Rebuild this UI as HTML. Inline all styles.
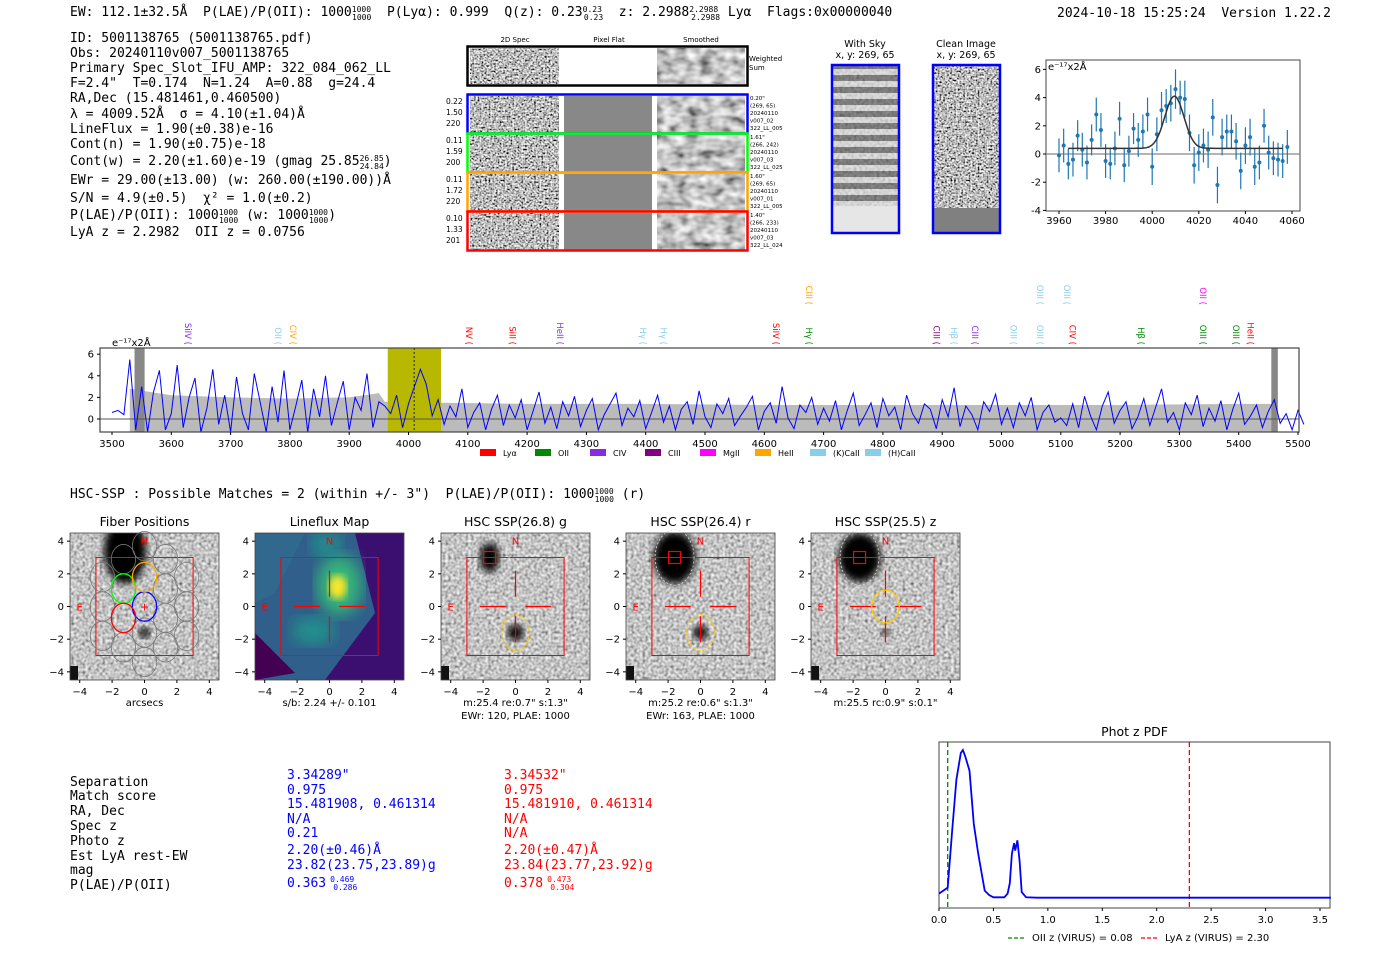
<!DOCTYPE html>
<html><head><meta charset="utf-8"><style>
html,body{margin:0;padding:0;background:#fff;}
svg{display:block;}
.m{font-family:"DejaVu Sans Mono","Liberation Mono",monospace;font-size:13px;fill:#000;white-space:pre;}
.s{font-family:"DejaVu Sans","Liberation Sans",sans-serif;}
.tk{font-family:"DejaVu Sans","Liberation Sans",sans-serif;font-size:10px;fill:#000;}
.sup{font-size:8px;}
</style></head><body>
<svg id="root" width="1400" height="953" viewBox="0 0 1400 953" xmlns="http://www.w3.org/2000/svg" xml:space="preserve">
<defs>
<filter id="noise" x="0" y="0" width="100%" height="100%"><feTurbulence type="fractalNoise" baseFrequency="0.55" numOctaves="1" seed="3"/><feColorMatrix type="saturate" values="0"/><feComponentTransfer><feFuncR type="linear" slope="3" intercept="-1"/><feFuncG type="linear" slope="3" intercept="-1"/><feFuncB type="linear" slope="3" intercept="-1"/><feFuncA type="linear" slope="0" intercept="1"/></feComponentTransfer></filter>
<filter id="noise2" x="0" y="0" width="100%" height="100%"><feTurbulence type="fractalNoise" baseFrequency="0.35" numOctaves="1" seed="7"/><feColorMatrix type="saturate" values="0"/><feComponentTransfer><feFuncR type="linear" slope="1.6" intercept="-0.25"/><feFuncG type="linear" slope="1.6" intercept="-0.25"/><feFuncB type="linear" slope="1.6" intercept="-0.25"/><feFuncA type="linear" slope="0" intercept="1"/></feComponentTransfer></filter>
<filter id="smooth" x="0" y="0" width="100%" height="100%"><feTurbulence type="fractalNoise" baseFrequency="0.08 0.12" numOctaves="2" seed="5"/><feColorMatrix type="saturate" values="0"/><feComponentTransfer><feFuncR type="linear" slope="1.8" intercept="-0.35"/><feFuncG type="linear" slope="1.8" intercept="-0.35"/><feFuncB type="linear" slope="1.8" intercept="-0.35"/><feFuncA type="linear" slope="0" intercept="1"/></feComponentTransfer></filter>
<filter id="blur4"><feGaussianBlur stdDeviation="4"/></filter>
<filter id="blur8"><feGaussianBlur stdDeviation="8"/></filter>
<pattern id="skystripes" width="10" height="12" patternUnits="userSpaceOnUse"><rect width="10" height="12" fill="#ddd"/><rect y="3" width="10" height="6" fill="#555"/></pattern>
</defs>

<text class="m" x="70" y="16">EW: 112.1±32.5Å  P(LAE)/P(OII): 1000<tspan class="sup" dy="-4">1000</tspan><tspan class="sup" dx="-19" dy="8">1000</tspan><tspan dy="-4">  P(Lyα): 0.999  Q(z): 0.23</tspan><tspan class="sup" dy="-4">0.23</tspan><tspan class="sup" dx="-18" dy="8">0.23</tspan><tspan dy="-4">  z: 2.2988</tspan><tspan class="sup" dy="-4">2.2988</tspan><tspan class="sup" dx="-27" dy="8">2.2988</tspan><tspan dy="-4"> Lyα  Flags:0x00000040</tspan></text>
<text class="m" x="1057" y="17">2024-10-18 15:25:24  Version 1.22.2</text>

<g>
<text class="m" x="70" y="42">ID: 5001138765 (5001138765.pdf)</text>
<text class="m" x="70" y="57">Obs: 20240110v007_5001138765</text>
<text class="m" x="70" y="72">Primary Spec_Slot_IFU_AMP: 322_084_062_LL</text>
<text class="m" x="70" y="87">F=2.4"  T=0.174  N=1.24  A=0.88  g=24.4</text>
<text class="m" x="70" y="102">RA,Dec (15.481461,0.460500)</text>
<text class="m" x="70" y="118">λ = 4009.52Å  σ = 4.10(±1.04)Å</text>
<text class="m" x="70" y="133">LineFlux = 1.90(±0.38)e-16</text>
<text class="m" x="70" y="148">Cont(n) = 1.90(±0.75)e-18</text>
<text class="m" x="70" y="165">Cont(w) = 2.20(±1.60)e-19 (gmag 25.85<tspan class="sup" dy="-4">26.85</tspan><tspan class="sup" dx="-24" dy="8">24.84</tspan><tspan dy="-4">)</tspan></text>
<text class="m" x="70" y="184">EWr = 29.00(±13.00) (w: 260.00(±190.00))Å</text>
<text class="m" x="70" y="202">S/N = 4.9(±0.5)  χ² = 1.0(±0.2)</text>
<text class="m" x="70" y="219">P(LAE)/P(OII): 1000<tspan class="sup" dy="-4">1000</tspan><tspan class="sup" dx="-19" dy="8">1000</tspan><tspan dy="-4"> (w: 1000</tspan><tspan class="sup" dy="-4">1000</tspan><tspan class="sup" dx="-19" dy="8">1000</tspan><tspan dy="-4">)</tspan></text>
<text class="m" x="70" y="236">LyA z = 2.2982  OII z = 0.0756</text>
</g>

<g class="s">
<text x="515" y="42" font-size="7" text-anchor="middle">2D Spec</text>
<text x="609" y="42" font-size="7" text-anchor="middle">Pixel Flat</text>
<text x="701" y="42" font-size="7" text-anchor="middle">Smoothed</text>
<rect x="470" y="48" width="89" height="36" filter="url(#noise)"/>
<rect x="657" y="48" width="88" height="36" filter="url(#smooth)"/>
<rect x="467.5" y="46.5" width="280" height="39" fill="none" stroke="#000" stroke-width="2.5"/>
<text x="749" y="61" font-size="7">Weighted</text><text x="749" y="70" font-size="7">Sum</text>
<g id="rows2d"></g>
</g>

<g class="s">
<text x="865" y="47" font-size="9.5" text-anchor="middle">With Sky</text>
<text x="865" y="58" font-size="9.5" text-anchor="middle">x, y: 269, 65</text>
<rect x="833" y="66" width="65" height="166" fill="url(#skystripes)"/>
<rect x="833" y="66" width="65" height="140" filter="url(#noise2)" opacity="0.35"/>
<rect x="833" y="206" width="65" height="26" fill="#e6e6e6"/>
<rect x="832" y="65" width="67" height="168" fill="none" stroke="#00f" stroke-width="2.5"/>
</g>
<g class="s">
<text x="966" y="47" font-size="9.5" text-anchor="middle">Clean Image</text>
<text x="966" y="58" font-size="9.5" text-anchor="middle">x, y: 269, 65</text>
<rect x="934" y="66" width="65" height="142" filter="url(#noise)"/>
<rect x="934" y="208" width="65" height="24" fill="#808080"/>
<rect x="933" y="65" width="67" height="168" fill="none" stroke="#00f" stroke-width="2.5"/>
</g>

<g id="fitplot"></g>
<g id="specplot"></g>

<text class="m" x="70" y="498">HSC-SSP : Possible Matches = 2 (within +/- 3")  P(LAE)/P(OII): 1000<tspan class="sup" dy="-4">1000</tspan><tspan class="sup" dx="-19" dy="8">1000</tspan><tspan dy="-4"> (r)</tspan></text>

<g id="cutouts"></g>

<g>
<g class="m">
<text x="70" y="786">Separation</text><text x="70" y="800">Match score</text><text x="70" y="815">RA, Dec</text><text x="70" y="830">Spec z</text><text x="70" y="845">Photo z</text><text x="70" y="860">Est LyA rest-EW</text><text x="70" y="874">mag</text><text x="70" y="889">P(LAE)/P(OII)</text>
</g>
<g class="m">
<text x="287" y="779" fill="#00f">3.34289"</text><text x="287" y="794" fill="#00f">0.975</text><text x="287" y="808" fill="#00f">15.481908, 0.461314</text><text x="287" y="823" fill="#00f">N/A</text><text x="287" y="837" fill="#00f">0.21</text><text x="287" y="854" fill="#00f">2.20(±0.46)Å</text><text x="287" y="869" fill="#00f">23.82(23.75,23.89)g</text><text x="287" y="887" fill="#00f">0.363<tspan class="sup" dx="4" dy="-5">0.469</tspan><tspan class="sup" dx="-21" dy="8">0.286</tspan></text>
</g>
<g class="m">
<text x="504" y="779" fill="#f00">3.34532"</text><text x="504" y="794" fill="#f00">0.975</text><text x="504" y="808" fill="#f00">15.481910, 0.461314</text><text x="504" y="823" fill="#f00">N/A</text><text x="504" y="837" fill="#f00">N/A</text><text x="504" y="854" fill="#f00">2.20(±0.47)Å</text><text x="504" y="869" fill="#f00">23.84(23.77,23.92)g</text><text x="504" y="887" fill="#f00">0.378<tspan class="sup" dx="4" dy="-5">0.473</tspan><tspan class="sup" dx="-21" dy="8">0.304</tspan></text>
</g>
</g>

<g id="pdfplot"></g>
</svg>

<script>
const fitWave = [3960,3962,3964,3966,3968,3970,3972,3974,3976,3978,3980,3982,3984,3986,3988,3990,3992,3994,3996,3998,4000,4002,4004,4006,4008,4010,4012,4014,4016,4018,4020,4022,4024,4026,4028,4030,4032,4034,4036,4038,4040,4042,4044,4046,4048,4050,4052,4054,4056,4058];
const fitFlux = [-0.1,0.6,-0.7,-0.4,1.3,0.3,-0.6,1.0,2.8,1.7,-0.5,-0.7,0.4,2.5,-0.8,0.2,1.8,1.0,1.6,2.8,-0.9,1.4,3.1,3.4,3.6,4.6,4.0,3.9,1.5,-0.8,0.1,0.6,0.3,2.6,-2.2,1.2,1.6,1.6,0.9,-1.2,0.6,1.2,-0.9,-0.6,2.0,0.1,-0.3,-0.4,-0.5,0.5];
const fitErr = [1.2,1.2,1.1,1.2,1.1,1.2,1.2,1.1,1.2,1.2,1.2,1.1,1.2,1.2,1.2,1.1,1.1,1.2,1.2,1.2,1.3,1.2,1.3,1.2,1.3,1.4,1.2,1.3,1.3,1.3,1.3,1.2,1.3,1.3,1.3,1.3,1.2,1.2,1.3,1.3,1.3,1.3,1.3,1.2,1.2,1.2,1.2,1.2,1.2,1.2];
const fitParams = [4009.52, 4.10, 3.7, 0.4];
const fitTicksX = [3960,3980,4000,4020,4040,4060];
const fitTicksY = [-4,-2,0,2,4,6];

const specStart = 3500, specStep = 10;
const specFlux = [0.6,0.8,0.4,5.5,-1,3,-1.2,2.5,4.5,-1,0.5,5,-0.8,2,3.8,-1.2,1,4.6,-0.5,2.2,-1.2,3.9,0.5,-1,4.2,1.5,-1.2,3,-0.3,4.5,-1,1.2,3.6,-1.2,2.8,0.2,4,-0.6,1.5,3.5,-1,2,0.8,4.2,-0.8,1.6,1.2,
0.5,2.2,-0.8,1.4,3,4.6,3.2,0.3,1.8,
-0.5,1.2,0.2,2.8,-0.8,0.6,1.5,-1,0.9,2.2,-0.6,1.3,0.1,1.8,-1,0.7,2.5,-0.4,1.1,-0.9,1.6,0.3,2.1,-0.7,0.8,1.9,-1,0.4,1.4,2.4,-0.6,1,0.2,1.7,-0.9,0.6,2.2,-0.3,1.2,-1,0.9,1.6,-0.5,2.6,0.2,-0.8,1.4,0.5,1.9,-0.6,0.3,1.1,2.1,-1,0.7,1.5,-0.4,3,0.1,-0.9,1.3,0.6,2,-0.5,1,-0.2,1.7,-1,0.8,2.4,-0.6,0.4,1.5,-0.8,1.9,0.3,1.1,-1,2.2,0.5,-0.4,1.4,0.9,-0.9,1.8,0.2,2.9,-0.7,1.2,0.4,-1,1.6,0.7,2.3,-0.5,1,-0.8,1.5,0.3,2,-1,0.6,1.3,-0.3,0.1,-0.6,
1.4,-0.8,2.1,0.3,-1,1.2,2.5,-0.4,0.8,1.6,-0.9,0.2,1.9,-0.6,1.1,2.8,-0.3,0.6,-1,1.5,0.4,2.2,-0.7,1,-0.2,1.7,-1,0.9,2.4,-0.5,0.3,1.3,-0.8,0.7,1.8,-0.4,0.5,-1,0.8,-0.5];
const specErrWave = [3530,3600,3700,3800,3900,3950,3960,4000,4060,4200,4400,4600,4800,5000,5200,5400,5460];
const specErrHi = [2.8,2.2,2.0,1.9,2.0,2.4,1.6,1.5,1.5,1.4,1.4,1.3,1.3,1.3,1.3,1.4,1.4];
const specTicksX = [3500,3600,3700,3800,3900,4000,4100,4200,4300,4400,4500,4600,4700,4800,4900,5000,5100,5200,5300,5400,5500];
const specTicksY = [0,2,4,6];
const lineNames = ["SiIV","OII","CIV","NV","SiII","HeII","Hγ","Hγ","SiIV","Hγ","CIII","Hβ","CIII","OIII","OIII","CIV","Hβ","OIII","OIII","HeII","CIII","OIII","OIII","OII"];
const lineWaves = [3618,3770,3795,4092,4165,4245,4385,4420,4610,4665,4880,4910,4945,5010,5055,5110,5225,5330,5385,5410,4665,5055,5100,5330];
const lineColors = ["#8a2be2","#87ceeb","#ffa500","#f00","#f00","#8a2be2","#87ceeb","#87ceeb","#f00","#080","#800080","#87ceeb","#8a2be2","#87ceeb","#87ceeb","#f00","#080","#080","#080","#f00","#ffa500","#87ceeb","#87ceeb","#f0f"];
const lineHigh = [0,0,0,0,0,0,0,0,0,0,0,0,0,0,0,0,0,0,0,0,1,1,1,1];
const legendNames = ["Lyα","OII","CIV","CIII","MgII","HeII","(K)CaII","(H)CaII"];
const legendColors = ["#f00","#080","#8a2be2","#800080","#f0f","#ffa500","#87ceeb","#87ceeb"];

const pdfZ = [0,0.08,0.12,0.16,0.2,0.22,0.24,0.28,0.32,0.36,0.42,0.46,0.5,0.6,0.63,0.65,0.67,0.69,0.7,0.72,0.74,0.76,0.8,0.9,1.5,2.5,3.6];
const pdfP = [0.03,0.07,0.45,0.8,0.98,1.0,0.96,0.86,0.5,0.3,0.05,0.02,0.005,0.005,0.03,0.1,0.3,0.37,0.32,0.39,0.25,0.04,0.005,0.002,0.002,0.002,0.002];
const pdfTicks = [0,0.5,1,1.5,2,2.5,3,3.5];
const pdfVlines = [0.08,2.30];

const cutTitles = ["Fiber Positions","Lineflux Map","HSC SSP(26.8) g","HSC SSP(26.4) r","HSC SSP(25.5) z"];
const cutLabel1 = ["arcsecs","s/b: 2.24 +/- 0.101","m:25.4  re:0.7\"  s:1.3\"","m:25.2  re:0.6\"  s:1.3\"","m:25.5 rc:0.9\"  s:0.1\""];
const cutLabel2 = ["","","EWr: 120, PLAE: 1000","EWr: 163, PLAE: 1000",""];
const cutTicks = [-4,-2,0,2,4];

const NS = "http://www.w3.org/2000/svg";
function mk(tag, attrs, parent){const e=document.createElementNS(NS,tag);for(const k in attrs)e.setAttribute(k,attrs[k]);if(parent)parent.appendChild(e);return e;}
function txt(str, attrs, parent){const e=mk("text",attrs,parent);e.textContent=str;return e;}

(function(){
  const g=document.getElementById("rows2d");
  const cols=["#00f","#0f0","#ffa500","#f00"];
  const lab=[["0.22","1.50","220"],["0.11","1.59","200"],["0.11","1.72","220"],["0.10","1.33","201"]];
  const rl=[["0.20\"","(269, 65)","20240110","v007_02","322_LL_005"],["1.61\"","(266, 242)","20240110","v007_03","322_LL_025"],["1.60\"","(269, 65)","20240110","v007_01","322_LL_005"],["1.40\"","(266, 233)","20240110","v007_03","322_LL_024"]];
  const ys=[96,135,174,213];
  for(let i=0;i<4;i++){
    const y=ys[i];
    const row=mk("g",{},g);
    
    
    mk("rect",{x:470,y:y,width:89,height:37,filter:"url(#noise)"},row);
    mk("rect",{x:564,y:y,width:88,height:37,fill:"#888"},row);
    mk("rect",{x:657,y:y,width:88,height:37,filter:"url(#smooth)"},row);
    mk("rect",{x:467.5,y:y-1.5,width:280,height:39,fill:"none",stroke:cols[i],"stroke-width":2.5},row);
    lab[i].forEach((t,j)=>txt(t,{x:446,y:y+8+j*11,"font-size":7.5},row));
    rl[i].forEach((t,j)=>txt(t,{x:750,y:y+4+j*7.5,"font-size":5.5},row));
  }
})();

(function(){
  const g=document.getElementById("fitplot");
  const L=1046,R=1300,T=60,B=211;
  const X=w=>1059+(w-3960)*(1292-1059)/100;
  const Y=v=>154-v*14.1;
  mk("rect",{x:L,y:T,width:R-L,height:B-T,fill:"#fff",stroke:"#444","stroke-width":1},g);
  mk("line",{x1:L,x2:R,y1:Y(0),y2:Y(0),stroke:"#888","stroke-width":1.2},g);
  fitTicksX.forEach(t=>{mk("line",{x1:X(t),x2:X(t),y1:B,y2:B+3,stroke:"#000"},g);txt(String(t),{x:X(t),y:B+13,"text-anchor":"middle",class:"tk"},g);});
  fitTicksY.forEach(t=>{mk("line",{x1:L-3,x2:L,y1:Y(t),y2:Y(t),stroke:"#000"},g);txt(String(t),{x:L-5,y:Y(t)+3.5,"text-anchor":"end",class:"tk"},g);});
  txt("e⁻¹⁷x2Å",{x:L+2,y:T+10,class:"tk","font-size":9},g);
  for(let i=0;i<fitWave.length;i++){
    const e=mk("line",{x1:X(fitWave[i]),x2:X(fitWave[i]),y1:Y(fitFlux[i]-fitErr[i]),y2:Y(fitFlux[i]+fitErr[i]),stroke:"#1f77b4","stroke-width":1.2},g);
    
    
    const c=mk("circle",{cx:X(fitWave[i]),cy:Y(fitFlux[i]),r:2,fill:"#1f77b4"},g);
    
    
  }
  let d="";
  for(let w=3964;w<=4056;w+=0.5){const v=fitParams[3]+fitParams[2]*Math.exp(-Math.pow(w-fitParams[0],2)/(2*fitParams[1]*fitParams[1]));d+=(d?"L":"M")+X(w).toFixed(1)+","+Y(v).toFixed(1);}
  const p=mk("path",{d:d,fill:"none",stroke:"#333","stroke-width":1.5},g);
  
  
})();

(function(){
  const g=document.getElementById("specplot");
  const L=100,R=1299,T=348,B=432;
  const X=w=>112+(w-3500)*(1298-112)/2000;
  const Y=v=>419-v*10.8;
  const clipY=y=>Math.max(T,Math.min(B,y));
  mk("rect",{x:L,y:T,width:R-L,height:B-T,fill:"#fff"},g);
  let d="M"+X(specErrWave[0])+","+B;
  specErrWave.forEach((w,i)=>{d+="L"+X(w).toFixed(1)+","+clipY(Y(specErrHi[i])).toFixed(1);});
  d+="L"+X(specErrWave[specErrWave.length-1])+","+B+"Z";
  const er=mk("path",{d:d,fill:"#bbb"},g);
  
  
  const yb=mk("rect",{x:X(3965),y:T,width:X(4055)-X(3965),height:B-T,fill:"#b8b800"},g);
  
  
  mk("line",{x1:X(4009.5),x2:X(4009.5),y1:T,y2:B,stroke:"#000","stroke-dasharray":"2,2","stroke-width":0.8},g);
  mk("rect",{x:X(3538),y:T,width:X(3555)-X(3538),height:B-T,fill:"#888"},g);
  mk("rect",{x:X(5455),y:T,width:X(5466)-X(5455),height:B-T,fill:"#888"},g);
  mk("line",{x1:L,x2:R,y1:Y(0),y2:Y(0),stroke:"#555","stroke-width":1},g);
  let s="";
  specFlux.forEach((v,i)=>{s+=(i?"L":"M")+X(specStart+i*specStep).toFixed(1)+","+clipY(Y(v)).toFixed(1);});
  const sp=mk("path",{d:s,fill:"none",stroke:"#00f","stroke-width":1},g);
  
  
  mk("rect",{x:L,y:T,width:R-L,height:B-T,fill:"none",stroke:"#444","stroke-width":1.2},g);
  specTicksX.forEach(t=>{mk("line",{x1:X(t),x2:X(t),y1:B,y2:B+3,stroke:"#000"},g);txt(String(t),{x:X(t),y:B+15,"text-anchor":"middle",class:"tk"},g);});
  specTicksY.forEach(t=>{mk("line",{x1:L-3,x2:L,y1:Y(t),y2:Y(t),stroke:"#000"},g);txt(String(t),{x:L-6,y:Y(t)+3.5,"text-anchor":"end",class:"tk"},g);});
  txt("e⁻¹⁷x2Å",{x:112,y:346,class:"tk","font-size":9},g);
  lineNames.forEach((n,i)=>{
    const x=X(lineWaves[i]), y=lineHigh[i]?305:345;
    const t=txt(n+" (",{x:0,y:0,transform:"translate("+(x+3)+","+y+") rotate(90)","font-size":8.5,fill:lineColors[i],class:"s","text-anchor":"end"},g);
    
    
  });
  legendNames.forEach((n,i)=>{
    const x=480+i*55;
    mk("rect",{x:x,y:449,width:16,height:7,fill:legendColors[i]},g);
    const t=txt(n,{x:x+23,y:456,"font-size":8,class:"s"},g);
    
    
  });
})();

(function(){
  const root=document.getElementById("cutouts");
  const xs=[70,255,441,626,811];
  const W=149,H=147,T=533;
  const blobs=[[[-1.2,3.4,1.3,2.0],[0,-1.6,0.35,0.35]],null,[[-1.6,3.0,0.6,0.9],[0,-1.6,0.5,0.5]],[[-1.6,3.0,1.3,1.6],[0,-1.6,0.45,0.45]],[[-1.6,3.0,1.3,1.5],[0,-1.6,0.3,0.2]]];
  xs.forEach((x0,k)=>{
    const g=mk("g",{},root);
    
    
    const sc=W/9.2, cx=x0+W/2, cy=T+H/2, scy=H/9;
    const X=v=>cx+v*sc, Y=v=>cy-v*scy;
    const cp="clip"+k;
    const c=mk("clipPath",{id:cp},g);mk("rect",{x:x0,y:T,width:W,height:H},c);
    const im=mk("g",{"clip-path":"url(#"+cp+")"},g);
    if(k===1){
      mk("rect",{x:x0,y:T,width:W,height:H,fill:"#2f5f8a"},im);
      mk("path",{d:`M${x0},${T+100} L${x0+40},${T+140} L${x0},${T+147}Z`,fill:"#440154"},im);
      mk("path",{d:`M${x0+100},${T} L${x0+149},${T} L${x0+149},${T+147} L${x0+70},${T+147} L${x0+120},${T+80}Z`,fill:"#3b0f70"},im);
      mk("path",{d:`M${x0},${T} L${x0+50},${T} L${x0+20},${T+60} L${x0},${T+70}Z`,fill:"#31688e"},im);
      mk("ellipse",{cx:X(0.6),cy:Y(1.3),rx:22,ry:30,fill:"#35b779",filter:"url(#blur8)"},im);
      mk("ellipse",{cx:X(0.5),cy:Y(1.2),rx:9,ry:12,fill:"#fde725",filter:"url(#blur4)"},im);
      mk("ellipse",{cx:X(-1),cy:Y(-1.5),rx:22,ry:14,fill:"#21918c",filter:"url(#blur8)"},im);
      mk("ellipse",{cx:X(-0.2),cy:Y(3.8),rx:16,ry:12,fill:"#21918c",filter:"url(#blur8)"},im);
    } else {
      mk("rect",{x:x0,y:T,width:W,height:H,filter:"url(#noise2)"},im);
      blobs[k].forEach(b=>mk("ellipse",{cx:X(b[0]),cy:Y(b[1]),rx:b[2]*sc,ry:b[3]*scy,fill:"#000",filter:"url(#blur4)"},im));
      mk("rect",{x:x0,y:T+H-14,width:8,height:14,fill:"#111"},im);
    }
    mk("rect",{x:X(-3),y:Y(3),width:6*sc,height:6*scy,fill:"none",stroke:"#f00","stroke-width":1},g);
    txt("N",{x:X(0),y:Y(3.8),fill:"#f00","font-size":10,"text-anchor":"middle",class:"s"},g);
    txt("E",{x:X(-4),y:Y(0)+4,fill:"#f00","font-size":10,"text-anchor":"middle",class:"s"},g);
    if(k>=1){
      mk("path",{d:`M${X(-2.2)},${Y(0)}H${X(-0.6)}M${X(0.6)},${Y(0)}H${X(2.2)}M${X(0)},${Y(2.2)}V${Y(0.6)}M${X(0)},${Y(-0.6)}V${Y(-2.2)}`,stroke:"#f00","stroke-width":1.2},g);
    }
    if(k===0){
      const fib=[[0,0,"#00f"],[-1.3,1.1,"#0f0"],[0,1.8,"#ffa500"],[-1.3,-0.7,"#f00"]];
      [[1.3,1.1],[1.3,-0.7],[0,-1.6],[1.3,-2.5],[-1.3,-2.5],[0,-3.4],[-1.3,2.9],[0,3.7],[1.3,2.9],[2.6,0],[2.6,1.8],[2.6,-1.8],[-2.6,0],[-2.6,1.8],[-2.6,-1.8]].forEach(p=>mk("ellipse",{cx:X(p[0]),cy:Y(p[1]),rx:0.75*sc,ry:0.9*scy,fill:"none",stroke:"#777","stroke-width":0.8},g));
      fib.forEach(f=>mk("ellipse",{cx:X(f[0]),cy:Y(f[1]),rx:0.75*sc,ry:0.9*scy,fill:"none",stroke:f[2],"stroke-width":1.3},g));
      txt("+",{x:X(0),y:Y(0)+4,fill:"#f00","font-size":11,"text-anchor":"middle",class:"s"},g);
    }
    if(k>=2){
      mk("rect",{x:X(-1.6)-6,y:Y(3.0)-6,width:12,height:12,fill:"none",stroke:"#f00","stroke-width":1.2},g);
      const oy=k===4?0:-1.6, ory=k===4?1.0:1.1;
      mk("ellipse",{cx:X(0),cy:Y(oy),rx:0.85*sc,ry:ory*scy,fill:"none",stroke:"#fc0","stroke-width":1.2,"stroke-dasharray":k===4?"":"3,2"},g);
      mk("ellipse",{cx:X(-1.6),cy:Y(3),rx:1.2*sc,ry:1.7*scy,fill:"none",stroke:"#ddd","stroke-width":0.8,"stroke-dasharray":"2,2"},g);
    }
    mk("rect",{x:x0,y:T,width:W,height:H,fill:"none",stroke:"#444","stroke-width":0.8},g);
    cutTicks.forEach(t=>{
      mk("line",{x1:X(t),x2:X(t),y1:T+H,y2:T+H+3,stroke:"#000"},g);
      txt(t<0?"−"+(-t):String(t),{x:X(t),y:T+H+15,"text-anchor":"middle",class:"tk"},g);
      mk("line",{x1:x0-3,x2:x0,y1:Y(t),y2:Y(t),stroke:"#000"},g);
      txt(t<0?"−"+(-t):String(t),{x:x0-6,y:Y(t)+3.5,"text-anchor":"end",class:"tk"},g);
    });
    txt(cutTitles[k],{x:cx,y:T-7,"text-anchor":"middle",class:"s","font-size":12.5},g);
    txt(cutLabel1[k],{x:cx,y:T+H+26,"text-anchor":"middle",class:"tk"},g);
    if(cutLabel2[k])txt(cutLabel2[k],{x:cx,y:T+H+39,"text-anchor":"middle",class:"tk"},g);
  });
})();

(function(){
  const g=document.getElementById("pdfplot");
  const L=939,R=1330,T=742,B=908;
  const X=z=>L+z*(1320-L)/3.5;
  const Y=p=>898-p*148;
  mk("rect",{x:L,y:T,width:R-L,height:B-T,fill:"#fff",stroke:"#444","stroke-width":1},g);
  txt("Phot z PDF",{x:(L+R)/2,y:736,"text-anchor":"middle",class:"s","font-size":12.5},g);
  pdfTicks.forEach(t=>{mk("line",{x1:X(t),x2:X(t),y1:B,y2:B+3,stroke:"#000"},g);txt(t.toFixed(1),{x:X(t),y:B+15,"text-anchor":"middle",class:"tk","font-size":10.5},g);});
  const vc=["#080","#f00"];
  pdfVlines.forEach((z,i)=>{
    const l=mk("line",{x1:X(z),x2:X(z),y1:T,y2:B,stroke:vc[i],"stroke-width":1.3,"stroke-dasharray":"5,3"},g);
    
    
  });
  let d="";
  pdfZ.forEach((z,i)=>{d+=(i?"L":"M")+X(z).toFixed(1)+","+Y(pdfP[i]).toFixed(1);});
  const p=mk("path",{d:d,fill:"none",stroke:"#00f","stroke-width":1.8},g);
  
  
  mk("line",{x1:1008,x2:1024,y1:938,y2:938,stroke:"#080","stroke-width":1.3,"stroke-dasharray":"4,2"},g);
  txt("OII z (VIRUS) = 0.08",{x:1032,y:941,class:"tk","font-size":8.5},g);
  mk("line",{x1:1141,x2:1157,y1:938,y2:938,stroke:"#f00","stroke-width":1.3,"stroke-dasharray":"4,2"},g);
  txt("LyA z (VIRUS) = 2.30",{x:1165,y:941,class:"tk","font-size":8.5},g);
})();
</script>
</body></html>
